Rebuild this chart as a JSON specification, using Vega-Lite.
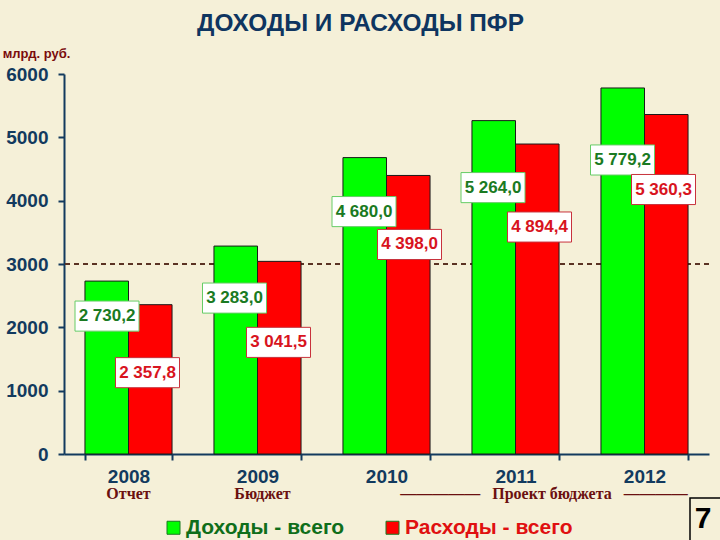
{
  "$schema": "https://vega.github.io/schema/vega-lite/v6.json",
  "description": "Pension fund income and spending by year",
  "width": 645,
  "height": 380,
  "autosize": "none",
  "padding": {"left": 64, "top": 74, "right": 11, "bottom": 86},
  "background": "#F5F0D8",
  "title": {
    "text": "ДОХОДЫ И РАСХОДЫ ПФР",
    "font": "Liberation Sans",
    "fontSize": 24.4,
    "fontWeight": "bold",
    "color": "#0E3560",
    "anchor": "middle",
    "frame": "group",
    "dx": -26,
    "offset": 11
  },
  "params": [
    {"name": "labelDx", "expr": "{'2008Доходы - всего': -21.5, '2008Расходы - всего': 19, '2009Доходы - всего': -23, '2009Расходы - всего': 21, '2010Доходы - всего': -22.5, '2010Расходы - всего': 23, '2011Доходы - всего': -22.5, '2011Расходы - всего': 24, '2012Доходы - всего': -22, '2012Расходы - всего': 19}"},
    {"name": "labelDy", "expr": "{'2008Доходы - всего': 35, '2008Расходы - всего': 68, '2009Доходы - всего': 52, '2009Расходы - всего': 81, '2010Доходы - всего': 54, '2010Расходы - всего': 69, '2011Доходы - всего': 67, '2011Расходы - всего': 83, '2012Доходы - всего': 72, '2012Расходы - всего': 75}"}
  ],
  "datasets": {
    "main": [
      {"year": "2008", "series": "Доходы - всего", "value": 2730.2, "label": "2 730,2"},
      {"year": "2008", "series": "Расходы - всего", "value": 2357.8, "label": "2 357,8"},
      {"year": "2009", "series": "Доходы - всего", "value": 3283.0, "label": "3 283,0"},
      {"year": "2009", "series": "Расходы - всего", "value": 3041.5, "label": "3 041,5"},
      {"year": "2010", "series": "Доходы - всего", "value": 4680.0, "label": "4 680,0"},
      {"year": "2010", "series": "Расходы - всего", "value": 4398.0, "label": "4 398,0"},
      {"year": "2011", "series": "Доходы - всего", "value": 5264.0, "label": "5 264,0"},
      {"year": "2011", "series": "Расходы - всего", "value": 4894.4, "label": "4 894,4"},
      {"year": "2012", "series": "Доходы - всего", "value": 5779.2, "label": "5 779,2"},
      {"year": "2012", "series": "Расходы - всего", "value": 5360.3, "label": "5 360,3"}
    ],
    "notes": [
      {"year": "2008", "note": "Отчет"},
      {"year": "2009", "note": "Бюджет"},
      {"year": "2011", "note": "—————\u00a0\u00a0\u00a0Проект бюджета\u00a0\u00a0\u00a0————"}
    ]
  },
  "data": {"name": "main"},
  "encoding": {
    "x": {
      "field": "year",
      "type": "nominal",
      "title": null,
      "scale": {"paddingInner": 0.325, "paddingOuter": 0.1625},
      "axis": {
        "labelAngle": 0,
        "labelFontSize": 19,
        "labelPadding": 7,
        "tickBand": "extent",
        "tickSize": 6
      }
    }
  },
  "layer": [
    {
      "mark": {"type": "rule", "color": "#5A3424", "strokeWidth": 0.8, "strokeDash": [5, 4]},
      "encoding": {"x": {}, "y": {"datum": 3000, "type": "quantitative"}}
    },
    {
      "mark": {"type": "bar", "stroke": "#1A1A1A", "strokeWidth": 1},
      "encoding": {
        "xOffset": {"field": "series", "type": "nominal", "scale": {"domain": ["Доходы - всего", "Расходы - всего"], "paddingInner": 0, "paddingOuter": 0}},
        "y": {
          "field": "value",
          "type": "quantitative",
          "scale": {"domain": [0, 6000], "nice": false},
          "axis": {
            "values": [0, 1000, 2000, 3000, 4000, 5000, 6000],
            "format": "d",
            "grid": false,
            "labelFontSize": 19,
            "labelPadding": 10,
            "tickSize": 6,
            "title": "млрд. руб.",
            "titleAngle": 0,
            "titleFont": "Liberation Sans",
            "titleFontSize": 13,
            "titleFontWeight": "bold",
            "titleColor": "#7A0C0C",
            "titleX": -28,
            "titleY": -21,
            "titleAlign": "center",
            "titleBaseline": "middle"
          }
        },
        "color": {
          "field": "series",
          "type": "nominal",
          "title": null,
          "scale": {"domain": ["Доходы - всего", "Расходы - всего"], "range": ["#00FF00", "#FF0000"]},
          "legend": {
            "orient": "none",
            "legendX": 99,
            "legendY": 443,
            "direction": "horizontal",
            "columns": 2,
            "columnPadding": 37,
            "symbolType": "square",
            "symbolSize": 169,
            "symbolStrokeColor": "#1A7A22",
            "symbolStrokeWidth": 1,
            "labelFont": "Liberation Sans",
            "labelFontSize": 21,
            "labelFontWeight": "bold",
            "labelOffset": 2,
            "labelLimit": 220,
            "labelColor": {"expr": "datum.value == 'Доходы - всего' ? '#0F6E1A' : '#E01010'"}
          }
        }
      }
    },
    {
      "mark": {
        "type": "point",
        "shape": "M-1,-0.47H1V0.47H-1Z",
        "size": 4096,
        "filled": false,
        "fill": "#FFFFFF",
        "fillOpacity": 1,
        "strokeWidth": 1,
        "opacity": 1,
        "xOffset": {"expr": "labelDx[datum.year + datum.series]"},
        "yOffset": {"expr": "labelDy[datum.year + datum.series]"}
      },
      "encoding": {
        "y": {"field": "value", "type": "quantitative"},
        "stroke": {
          "field": "series",
          "type": "nominal",
          "scale": {"domain": ["Доходы - всего", "Расходы - всего"], "range": ["#66CC66", "#C8323C"]},
          "legend": null
        }
      }
    },
    {
      "mark": {
        "type": "text",
        "font": "Liberation Sans",
        "fontSize": 17,
        "fontWeight": "bold",
        "align": "center",
        "baseline": "middle",
        "dx": {"expr": "labelDx[datum.year + datum.series]"},
        "dy": {"expr": "labelDy[datum.year + datum.series]"}
      },
      "encoding": {
        "y": {"field": "value", "type": "quantitative"},
        "text": {"field": "label", "type": "nominal"},
        "fill": {
          "field": "series",
          "type": "nominal",
          "scale": {"domain": ["Доходы - всего", "Расходы - всего"], "range": ["#1A7A22", "#D8141E"]},
          "legend": null
        }
      }
    },
    {
      "data": {"name": "notes"},
      "mark": {
        "type": "text",
        "font": "Liberation Serif",
        "fontSize": 16,
        "fontWeight": "bold",
        "color": "#6B1010",
        "align": "center",
        "baseline": "middle",
        "y": 420,
        "dx": {"expr": "{'2008': 0, '2009': 5, '2011': 28.5}[datum.year]"}
      },
      "encoding": {"text": {"field": "note", "type": "nominal"}}
    },
    {
      "data": {"values": [{"page": "7"}]},
      "mark": {"type": "rect", "x": 626, "x2": 660, "y": 424, "y2": 470, "fill": "#F5F0D8", "stroke": "#000000", "strokeWidth": 1.5},
      "encoding": {"x": {"value": 626}}
    },
    {
      "data": {"values": [{"page": "7"}]},
      "mark": {"type": "text", "font": "Liberation Sans", "fontSize": 30, "fontWeight": "bold", "color": "#000000", "align": "center", "baseline": "middle", "x": 639, "y": 445},
      "encoding": {"x": {"value": 639}, "text": {"field": "page", "type": "nominal"}}
    }
  ],
  "resolve": {"scale": {"color": "independent"}},
  "config": {
    "view": {"stroke": null},
    "axis": {
      "labelFont": "Liberation Sans",
      "labelFontWeight": "bold",
      "labelColor": "#123A5E",
      "domainColor": "#123A5E",
      "domainWidth": 2,
      "tickColor": "#123A5E",
      "tickWidth": 2
    }
  }
}
